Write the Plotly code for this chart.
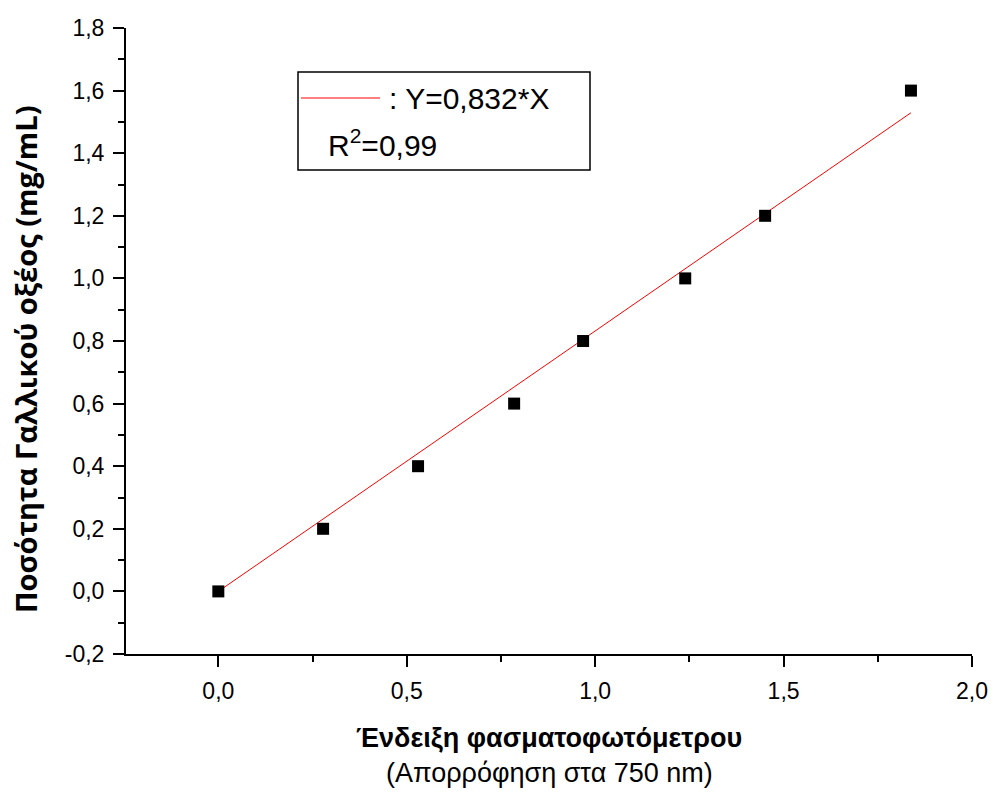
import plotly.graph_objects as go

absorbance = [0.0, 0.278, 0.530, 0.785, 0.968, 1.239, 1.451, 1.838]
gallic_acid = [0.0, 0.2, 0.4, 0.6, 0.8, 1.0, 1.2, 1.6]
slope = 0.832
fit_label = ": Y=0,832*X"
r2_label = "R<sup>2</sup>=0,99"
x_ticks = [0.0, 0.5, 1.0, 1.5, 2.0]
x_tick_text = ["0,0", "0,5", "1,0", "1,5", "2,0"]
y_ticks = [-0.2, 0.0, 0.2, 0.4, 0.6, 0.8, 1.0, 1.2, 1.4, 1.6, 1.8]
y_tick_text = ["-0,2", "0,0", "0,2", "0,4", "0,6", "0,8", "1,0", "1,2", "1,4", "1,6", "1,8"]

fit_x = [0.0, max(absorbance)]
fit_y = [slope * v for v in fit_x]

FONT = "Liberation Sans, Arial, sans-serif"
YFONT = "Open Sans, DejaVu Sans, sans-serif"

# plot area in pixels
L, R, T, B = 126, 972, 28, 654
W, H = R - L, B - T


def px(x):
    return (x - L) / W


def py(y):
    return (B - y) / H


fig = go.Figure()
fig.add_trace(go.Scatter(x=fit_x, y=fit_y, mode="lines",
                         line=dict(color="#ff0000", width=1), showlegend=False))
fig.add_trace(go.Scatter(x=absorbance, y=gallic_acid, mode="markers",
                         marker=dict(symbol="square", size=12, color="black"),
                         showlegend=False))

axis_common = dict(showline=True, linecolor="black", linewidth=2, ticks="outside",
                   ticklen=11, tickwidth=2, tickcolor="black", showgrid=False,
                   zeroline=False, mirror=False, ticklabelstandoff=4, automargin=False,
                   tickfont=dict(family=FONT, size=23, color="black"))

fig.update_xaxes(range=[-0.245, 2.0], tickmode="array", tickvals=x_ticks,
                 ticktext=x_tick_text,
                 minor=dict(ticks="outside", ticklen=6, tickwidth=2, dtick=0.25, tick0=0,
                            tickcolor="black"),
                 **axis_common)
fig.update_yaxes(range=[-0.2, 1.8], tickmode="array", tickvals=y_ticks,
                 ticktext=y_tick_text,
                 minor=dict(ticks="outside", ticklen=6, tickwidth=2, dtick=0.1, tick0=0,
                            tickcolor="black"),
                 **axis_common)

# Legend box
fig.add_shape(type="rect", xref="paper", yref="paper",
              x0=px(298), x1=px(590), y0=py(170), y1=py(72),
              line=dict(color="black", width=1.5), fillcolor="white")
fig.add_shape(type="line", xref="paper", yref="paper",
              x0=px(301), x1=px(380), y0=py(98), y1=py(98),
              line=dict(color="#ff0000", width=1))
fig.add_annotation(xref="paper", yref="paper", x=px(387), y=py(98),
                   text=fit_label, showarrow=False, xanchor="left", yanchor="middle",
                   font=dict(family=FONT, size=30, color="black"))
fig.add_annotation(xref="paper", yref="paper", x=px(326), y=py(143),
                   text=r2_label, showarrow=False, xanchor="left", yanchor="middle",
                   font=dict(family=FONT, size=30, color="black"))

# Y title
fig.add_annotation(xref="paper", yref="paper", x=px(25), y=py(359),
                   text="<b>Ποσότητα Γαλλικού οξέος (mg/mL)</b>", showarrow=False,
                   textangle=-90, xanchor="center", yanchor="middle",
                   font=dict(family=YFONT, size=29, color="black"))

# X title (two lines)
fig.add_annotation(xref="paper", yref="paper", x=0.5, y=py(738),
                   text="<b>Ένδειξη φασματοφωτόμετρου</b>", showarrow=False,
                   xanchor="center", yanchor="middle",
                   font=dict(family=FONT, size=27, color="black"))
fig.add_annotation(xref="paper", yref="paper", x=0.5, y=py(773),
                   text="(Απορρόφηση στα 750 nm)", showarrow=False,
                   xanchor="center", yanchor="middle",
                   font=dict(family=FONT, size=27, color="black"))

fig.update_layout(width=995, height=792, separators=",.",
                  margin=dict(l=L, r=995 - R, t=T, b=792 - B),
                  plot_bgcolor="white", paper_bgcolor="white",
                  font=dict(family=FONT, color="black"))

fig.write_html("out.html", config={"displayModeBar": False},
               post_script="document.body.style.margin='0';")
